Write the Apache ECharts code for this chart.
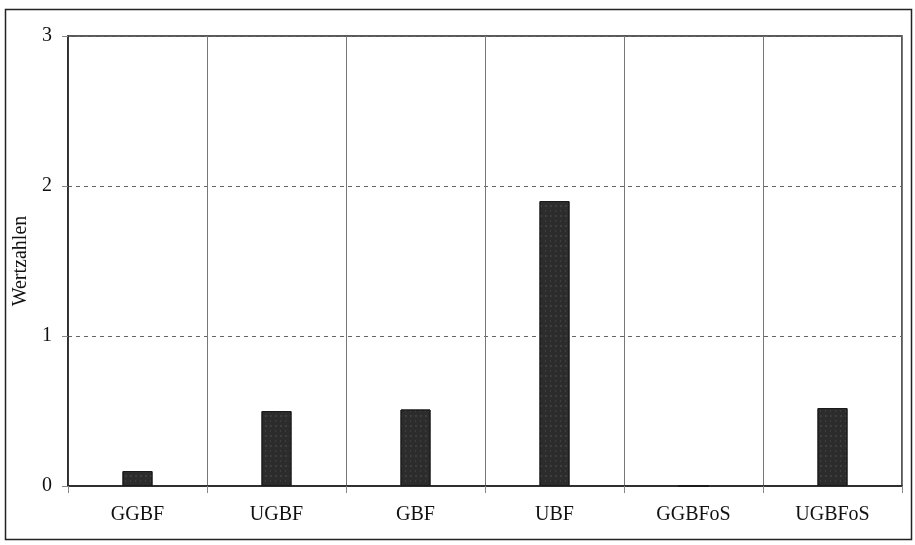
<!DOCTYPE html>
<html><head><meta charset="utf-8">
<script src="https://cdn.jsdelivr.net/npm/echarts@6/dist/echarts.min.js"></script>
<style>html,body{margin:0;padding:0;background:#fff}#c{width:915px;height:545px}</style>
</head><body><div id="c"></div>
<script>
const categories = ['GGBF','UGBF','GBF','UBF','GGBFoS','UGBFoS'];
const values = [0.1, 0.5, 0.51, 1.9, 0, 0.52];
const yTicks = [0, 1, 2, 3];
const yName = 'Wertzahlen';

const chart = echarts.init(document.getElementById('c'), null, {renderer:'canvas'});
const font = '"Liberation Serif","DejaVu Serif",serif';
chart.setOption({
  animation:false,
  backgroundColor:'#fff',
  graphic:[{type:'rect', shape:{x:5.5,y:9.5,width:906,height:530}, style:{fill:'none', stroke:'#222', lineWidth:1.5}, z:-1}],
  grid:{left:68, top:36, right:13, bottom:59, show:true, borderColor:'#222', borderWidth:1.5},
  xAxis:{type:'category', data:categories,
    axisLine:{lineStyle:{color:'#222', width:1.5}},
    axisTick:{show:true, alignWithLabel:false, length:7, lineStyle:{color:'#888'}},
    axisLabel:{fontFamily:font, fontSize:20, color:'#111', margin:19},
    splitLine:{show:true, lineStyle:{color:'#777', width:1}}
  },
  yAxis:{type:'value', min:0, max:3, interval:1,
    name:yName, nameLocation:'middle', nameGap:32, nameRotate:90,
    nameTextStyle:{fontFamily:font, fontSize:20, color:'#111'},
    axisLine:{show:true, lineStyle:{color:'#222', width:1.5}},
    axisTick:{show:true, length:6, lineStyle:{color:'#888'}},
    axisLabel:{fontFamily:font, fontSize:20, color:'#111', margin:16,
      formatter:v=> yTicks.includes(v) ? String(v) : ''},
    splitLine:{show:true, lineStyle:{color:'#666', type:[4,4], width:1}}
  },
  series:[{type:'bar', data:values, barWidth:30,
    itemStyle:{color:'#2c2c2c', borderColor:'#1a1a1a', borderWidth:1,
      decal:{symbol:'rect', symbolSize:0.6, color:'rgba(160,160,160,0.55)', dashArrayX:[[2,3],[1,4]], dashArrayY:[2,3], rotation:0}}
  }]
});
</script></body></html>
